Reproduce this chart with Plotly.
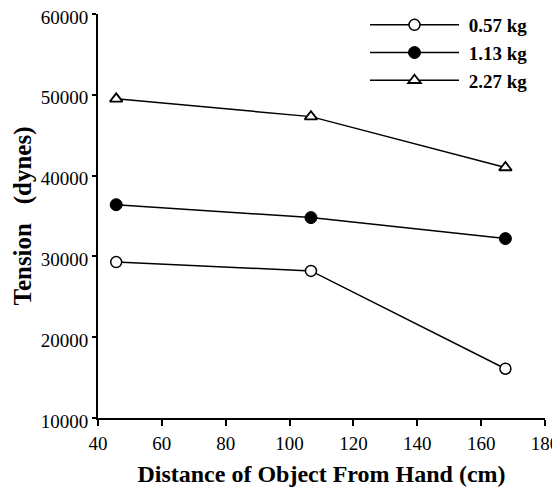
import plotly.graph_objects as go

distance_cm = [45.7, 106.7, 167.6]
tension_057 = [29300, 28200, 16100]
tension_113 = [36400, 34800, 32200]
tension_227 = [49500, 47300, 41000]
series_names = ["0.57 kg", "1.13 kg", "2.27 kg"]

fig = go.Figure()
fig.add_trace(go.Scatter(
    x=distance_cm, y=tension_057, name="&nbsp;" + series_names[0], mode="lines+markers",
    line=dict(color="black", width=1.5),
    marker=dict(symbol="circle", size=11, color="white", line=dict(color="black", width=1.5))))
fig.add_trace(go.Scatter(
    x=distance_cm, y=tension_113, name="&nbsp;" + series_names[1], mode="lines+markers",
    line=dict(color="black", width=1.5),
    marker=dict(symbol="circle", size=12, color="black", line=dict(color="black", width=1))))
fig.add_trace(go.Scatter(
    x=distance_cm, y=tension_227, name="&nbsp;" + series_names[2], mode="lines+markers",
    line=dict(color="black", width=1.5),
    marker=dict(symbol="triangle-up", size=11, color="white", line=dict(color="black", width=1.8))))

fig.update_layout(
    width=552, height=480,
    margin=dict(l=90, r=15, t=6, b=70, autoexpand=False),
    paper_bgcolor="white", plot_bgcolor="white",
    font=dict(family="Liberation Serif", color="black", size=19),
    showlegend=True,
    legend=dict(x=0.5973, y=1.0198, xanchor="left", yanchor="top",
                font=dict(family="Liberation Serif", size=19, color="black", weight="bold"),
                itemwidth=89, tracegroupgap=0, bgcolor="rgba(0,0,0,0)"),
    xaxis=dict(range=[40, 180], tickmode="array", tickvals=[40, 60, 80, 100, 120, 140, 160, 180],
               showline=True, linecolor="black", linewidth=2, ticks="outside", ticklen=6,
               tickwidth=1.5, tickcolor="black", showgrid=False, zeroline=False,
               tickfont=dict(size=19), ticklabelstandoff=1, automargin=False,
               ticklabeloverflow="allow",
               title=dict(text="<b>Distance of Object From Hand (cm)</b>",
                          font=dict(size=24, family="Liberation Serif"), standoff=12)),
    yaxis=dict(range=[10000, 60000], tickmode="array",
               tickvals=[10000, 20000, 30000, 40000, 50000, 60000],
               ticktext=["10000", "20000", "30000", "40000", "50000", "60000"],
               showline=True, linecolor="black", linewidth=2, ticks="outside", ticklen=4,
               tickwidth=1.5, tickcolor="black", showgrid=False, zeroline=False,
               tickfont=dict(size=19), automargin=False, ticklabeloverflow="allow",
               ticklabelshift=3,
               title=dict(text="<b>Tension&nbsp;&nbsp; (dynes)</b>",
                          font=dict(size=25, family="Liberation Serif"), standoff=2)),
)

fig.write_html("out.html")
